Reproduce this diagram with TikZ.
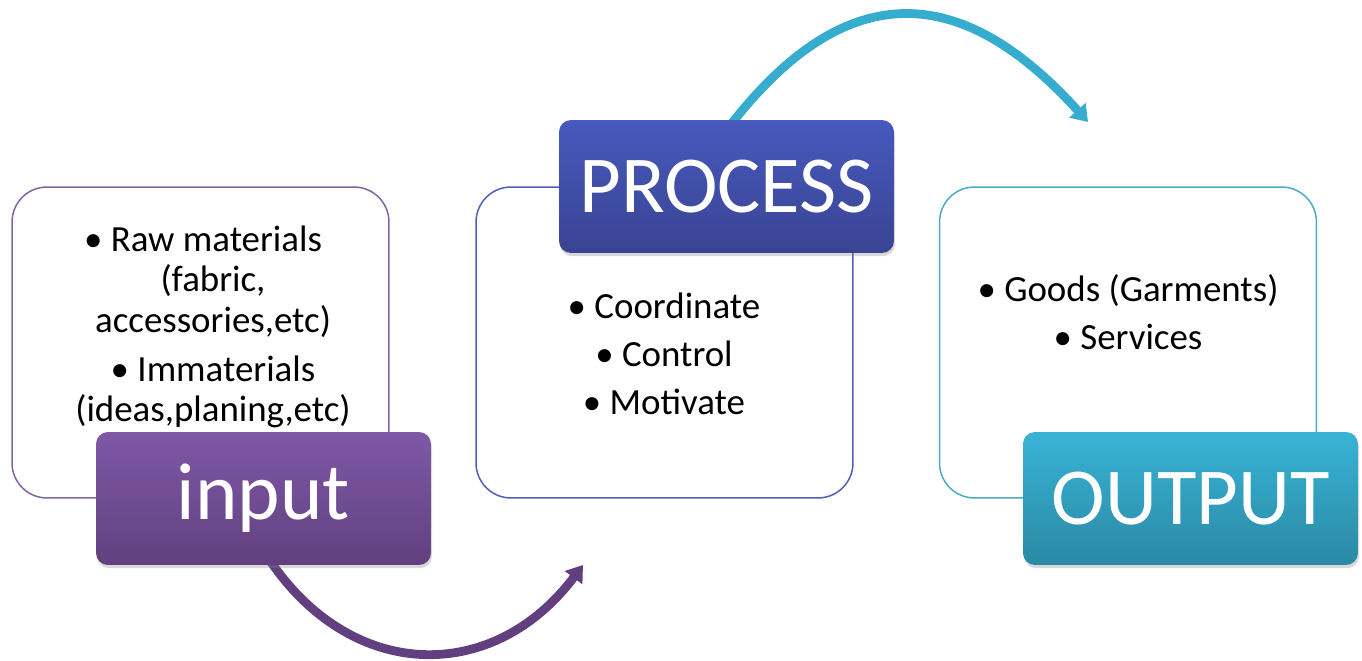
\documentclass[tikz,border=0pt]{standalone}
\usepackage{fontspec}
\setmainfont{Carlito}
\usetikzlibrary{arrows.meta,shadows,backgrounds}
\definecolor{inlight}{HTML}{7F58A7}
\definecolor{indark}{HTML}{62407F}
\definecolor{proclight}{HTML}{4759BD}
\definecolor{procdark}{HTML}{3A4493}
\definecolor{outlight}{HTML}{38B3D6}
\definecolor{outdark}{HTML}{2A8AA4}
\definecolor{inline}{HTML}{8064A2}
\definecolor{procline}{HTML}{4F5FB5}
\definecolor{outline}{HTML}{4BACC6}
\begin{document}
\begin{tikzpicture}[x=0.02cm, y=-0.02cm,
	frame/.style={draw, fill=white, rounded corners=0.7cm, line width=0.85pt, minimum width=7.54cm, minimum height=6.22cm},
	tagbox/.style={rounded corners=0.24cm, minimum width=6.7cm, minimum height=2.66cm, text=white, font=\fontsize{46}{55}\selectfont, drop shadow={opacity=0.3, shadow xshift=0.6pt, shadow yshift=-1.8pt}},
	bullets/.style={align=center, font=\fontsize{21}{23}\selectfont},
	arcarrow/.style={line width=5pt, -{Triangle[length=9pt, width=12pt]}}]
	\useasboundingbox (0,0) rectangle (1362,661);

	\node[frame, draw=inline] (inframe) at (200.5,342.5) {};
	\node[frame, draw=procline] (procframe) at (664.5,342.5) {};
	\node[frame, draw=outline] (outframe) at (1128,342.5) {};

	\node[bullets] (intext) at (213,327) {• Raw materials\hspace*{0.4cm}\\(fabric,\\accessories,etc)\\[5pt]• Immaterials\hspace*{0.4cm}\\(ideas,planing,etc)};
	\node[bullets] (proctext) at (664,354) {• Coordinate\\[4.5pt]• Control\\[4.5pt]• Motivate};
	\node[bullets] (outtext) at (1128,312) {• Goods (Garments)\\[4.5pt]• Services};

	\node[tagbox, top color=inlight, bottom color=indark] (inlabel) at (263.5,498.5) {input};
	\node[tagbox, top color=proclight, bottom color=procdark] (proclabel) at (726.5,186.5) {PROCESS};
	\node[tagbox, top color=outlight, bottom color=outdark] (outlabel) at (1190.5,498.5) {OUTPUT};

	\coordinate (inend) at (583,565);
	\coordinate (procend) at (1088,122);
	\begin{scope}[on background layer]
		\draw[arcarrow, color=indark] ([xshift=1.5pt, yshift=6pt]inlabel.south) .. controls (349,683) and (493,685) .. (inend);
		\draw[arcarrow, color=outlight!85!outdark] ([yshift=-6pt]proclabel.north) .. controls (842,-22) and (958,-22) .. (procend);
	\end{scope}
\end{tikzpicture}
\end{document}
